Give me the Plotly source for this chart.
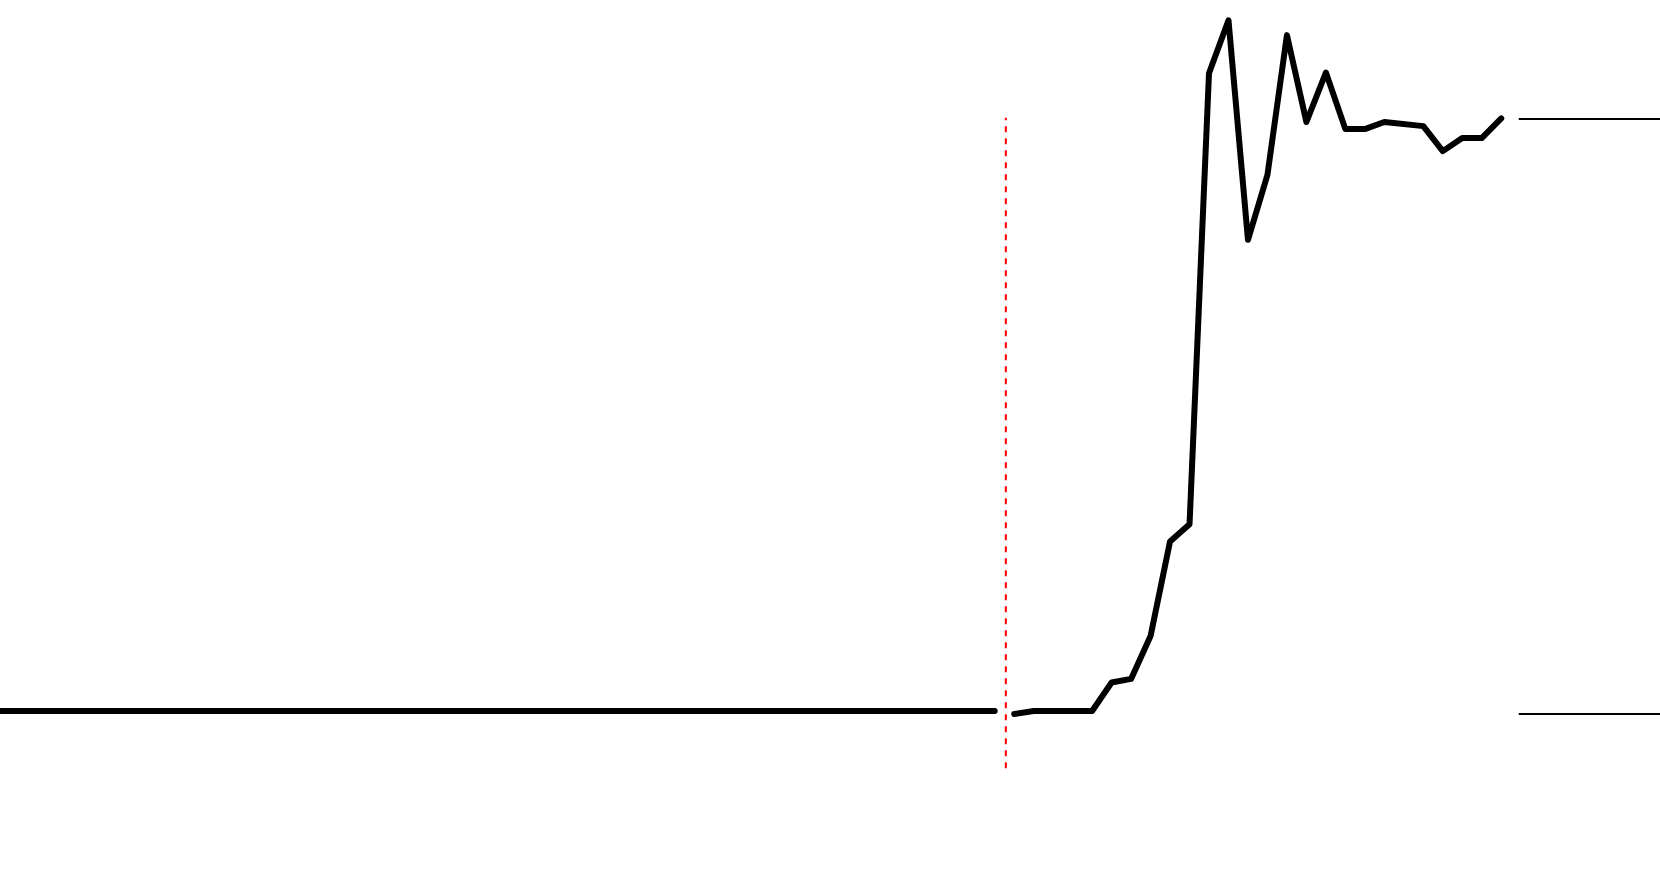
import plotly.graph_objects as go

# periods relative to the event (0 = first period after it)
pre_periods = list(range(-54, 0))
post_periods = list(range(0, 26))

pre_values = [0.5] * len(pre_periods)
post_values = [0.0, 0.5, 0.5, 0.5, 0.5, 5.3, 5.9, 13.1, 29.0, 31.9,
               107.7, 116.6, 79.7, 90.6, 114.1, 99.5, 107.8, 98.3, 98.3, 99.5,
               99.2, 98.8, 94.6, 96.8, 96.8, 100.1]

event_x = -0.43
event_y = [-9.1, 100.2]
levels = [100.0, 0.0]
level_start = 25.9

line_style = dict(color="black", width=6)

fig = go.Figure()
fig.add_trace(go.Scatter(x=pre_periods, y=pre_values, mode="lines",
                         line=line_style, hoverinfo="skip"))
fig.add_trace(go.Scatter(x=post_periods, y=post_values, mode="lines",
                         line=line_style, hoverinfo="skip"))

# event marker
fig.add_shape(type="line", x0=event_x, x1=event_x, y0=event_y[0], y1=event_y[1],
              xref="x", yref="y", line=dict(color="red", width=2, dash="6px,6px"))

# reference levels at the right edge
for lv in levels:
    fig.add_shape(type="line", x0=level_start, x1=40, y0=lv, y1=lv,
                  xref="x", yref="y", line=dict(color="black", width=2))

fig.update_layout(
    width=1660, height=888,
    margin=dict(l=0, r=0, t=0, b=0),
    paper_bgcolor="white", plot_bgcolor="white",
    showlegend=False,
    xaxis=dict(range=[-52.06, 33.15], visible=False, fixedrange=True),
    yaxis=dict(range=[-29.24, 120.0], visible=False, fixedrange=True),
)

# no page margin, rounded line ends
post = """
document.body.style.margin = '0';
document.body.style.overflow = 'hidden';
var st = document.createElement('style');
st.innerHTML = '.scatterlayer .js-line {stroke-linecap: round; stroke-linejoin: round;}';
document.head.appendChild(st);
"""

fig.write_html("out.html", post_script=post, config={"displayModeBar": False})
